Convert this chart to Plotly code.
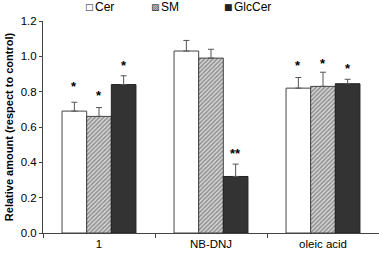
import plotly.graph_objects as go

categories = ["1", "NB-DNJ", "oleic acid"]
cer = [0.69, 1.03, 0.82]
cer_err = [0.05, 0.06, 0.06]
sm = [0.66, 0.99, 0.83]
sm_err = [0.05, 0.05, 0.08]
glc = [0.84, 0.32, 0.845]
glc_err = [0.05, 0.07, 0.025]
y_ticks = [0.0, 0.2, 0.4, 0.6, 0.8, 1.0, 1.2]
series_names = ["Cer", "SM", "GlcCer"]
legend_glyphs = ["\u25a1", "\u25a8", "\u25a0"]
# significance marks: (category, series offset index, y, text)
sig_marks = [
    ("1", 0, 0.83, "*"), ("1", 1, 0.78, "*"), ("1", 2, 0.95, "*"),
    ("NB-DNJ", 2, 0.45, "**"),
    ("oleic acid", 0, 0.95, "*"), ("oleic acid", 1, 0.96, "*"), ("oleic acid", 2, 0.93, "*"),
]

font = "Liberation Sans, Arial, sans-serif"
err_style = dict(type="data", symmetric=False, color="#555555", thickness=1, width=3)

W, H = 379, 255
ML, MR, MT, MB = 43, 0, 21, 22
PW, PH = W - ML - MR, H - MT - MB

fig = go.Figure()
fig.add_trace(go.Bar(name="Cer", x=categories, y=cer,
                     marker=dict(color="white", line=dict(color="#444444", width=1)),
                     error_y=dict(array=cer_err, arrayminus=[0]*3, **err_style)))
fig.add_trace(go.Bar(name="SM", x=categories, y=sm,
                     marker=dict(color="white", line=dict(color="#444444", width=1),
                                 pattern=dict(shape="/", fgcolor="#444444", bgcolor="#d8d8d8",
                                              size=3, solidity=0.5)),
                     error_y=dict(array=sm_err, arrayminus=[0]*3, **err_style)))
fig.add_trace(go.Bar(name="GlcCer", x=categories, y=glc,
                     marker=dict(color="#333333", line=dict(color="#222222", width=1)),
                     error_y=dict(array=glc_err, arrayminus=[0]*3, **err_style)))

bargap = 0.34
bw = (1 - bargap) / 3
for cat, k, yv, txt in sig_marks:
    xi = categories.index(cat)
    fig.add_annotation(x=xi + (k - 1) * bw, y=yv, text="<b>" + txt + "</b>", showarrow=False,
                       xref="x", yref="y", font=dict(size=13, color="black", family=font),
                       yanchor="middle")

# manual legend (symbol glyph + label) above the plot
leg_sym_px = [89, 155.5, 228]
leg_txt_px = [94, 160, 233]
leg_y = (H - MB - 7) / PH
for name, glyph, sx, tx in zip(series_names, legend_glyphs, leg_sym_px, leg_txt_px):
    fig.add_annotation(x=(sx - ML) / PW, y=leg_y, xref="paper", yref="paper",
                       text=glyph, showarrow=False, xanchor="center", yanchor="middle",
                       font=dict(size=9, color="#222222", family="DejaVu Sans"))
    fig.add_annotation(x=(tx - ML) / PW, y=leg_y, xref="paper", yref="paper",
                       text=name, showarrow=False, xanchor="left", yanchor="middle",
                       xshift=-1, font=dict(size=12, color="black", family=font))

fig.update_layout(
    width=W, height=H,
    margin=dict(l=ML, r=MR, t=MT, b=MB),
    paper_bgcolor="white", plot_bgcolor="white",
    barmode="group", bargap=bargap, bargroupgap=0,
    font=dict(family=font, size=11, color="black"),
    showlegend=False,
    xaxis=dict(type="category", range=[-0.5, 2.5], showline=True, linecolor="#444444",
               linewidth=1, ticks="outside", tickson="boundaries", ticklen=4,
               tickcolor="#444444", showgrid=False, tickfont=dict(size=11.5),
               automargin=False),
    yaxis=dict(range=[0, 1.2], tickvals=y_ticks, ticktext=[f"{v:.1f}" for v in y_ticks],
               showline=True, linecolor="#444444", linewidth=1, ticks="outside", ticklen=3,
               tickcolor="#444444", showgrid=False, zeroline=False, tickfont=dict(size=11.5),
               automargin=False,
               title=dict(text="<b>Relative amount (respect to control)</b>",
                          font=dict(size=11), standoff=4)),
)

fig.write_html("out.html", config={"displayModeBar": False},
               post_script="document.body.style.margin='0';document.body.style.padding='0';")
